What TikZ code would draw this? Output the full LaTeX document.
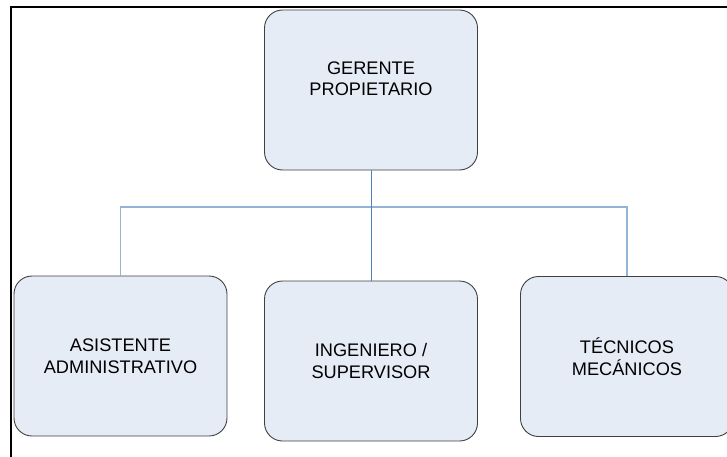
\documentclass[tikz,border=0pt]{standalone}
\usepackage{fontspec}
\setmainfont{Liberation Sans}
\usepackage{tikz}
\usetikzlibrary{calc,positioning}
\definecolor{boxfill}{RGB}{230,236,246}
\definecolor{boxline}{RGB}{64,64,64}
\definecolor{trunkblue}{RGB}{79,129,189}
\definecolor{branchblue}{RGB}{149,179,215}
\tikzset{
  puesto/.style={
    rectangle,
    rounded corners=18pt,
    fill=boxfill,
    draw=boxline, line width=0.9pt,
    minimum width=213pt,
    minimum height=160pt,
    align=center,
    font=\fontsize{18.2}{21.5}\selectfont},
  trunk/.style={draw=trunkblue, line width=1pt},
  branch/.style={draw=branchblue, line width=1.4pt},
  marco/.style={draw=black, line width=2pt},
}
\begin{document}
\begin{tikzpicture}[x=1pt,y=-1pt]
  \useasboundingbox (0,0) rectangle (727,457);
  \draw[marco] (11,457) -- (11,7) -- (727,7);

  \node[puesto, label={[yshift=11pt, align=center, font=\fontsize{18.2}{21}\selectfont]center:GERENTE\\PROPIETARIO}]
    (gerente) at (371,90) {};
  \node[puesto] (asistente) at (120.5,356) {ASISTENTE\\ADMINISTRATIVO};
  \node[puesto] (ingeniero) at (371,361) {INGENIERO /\\SUPERVISOR};
  \node[puesto] (tecnicos) at (627,356.5) {TÉCNICOS\\MECÁNICOS};

  \coordinate (bus) at (371,207);
  \draw[branch] (asistente.north) |- (bus) -| (tecnicos.north);
  \draw[trunk] (gerente.south) -- (ingeniero.north);
\end{tikzpicture}
\end{document}
